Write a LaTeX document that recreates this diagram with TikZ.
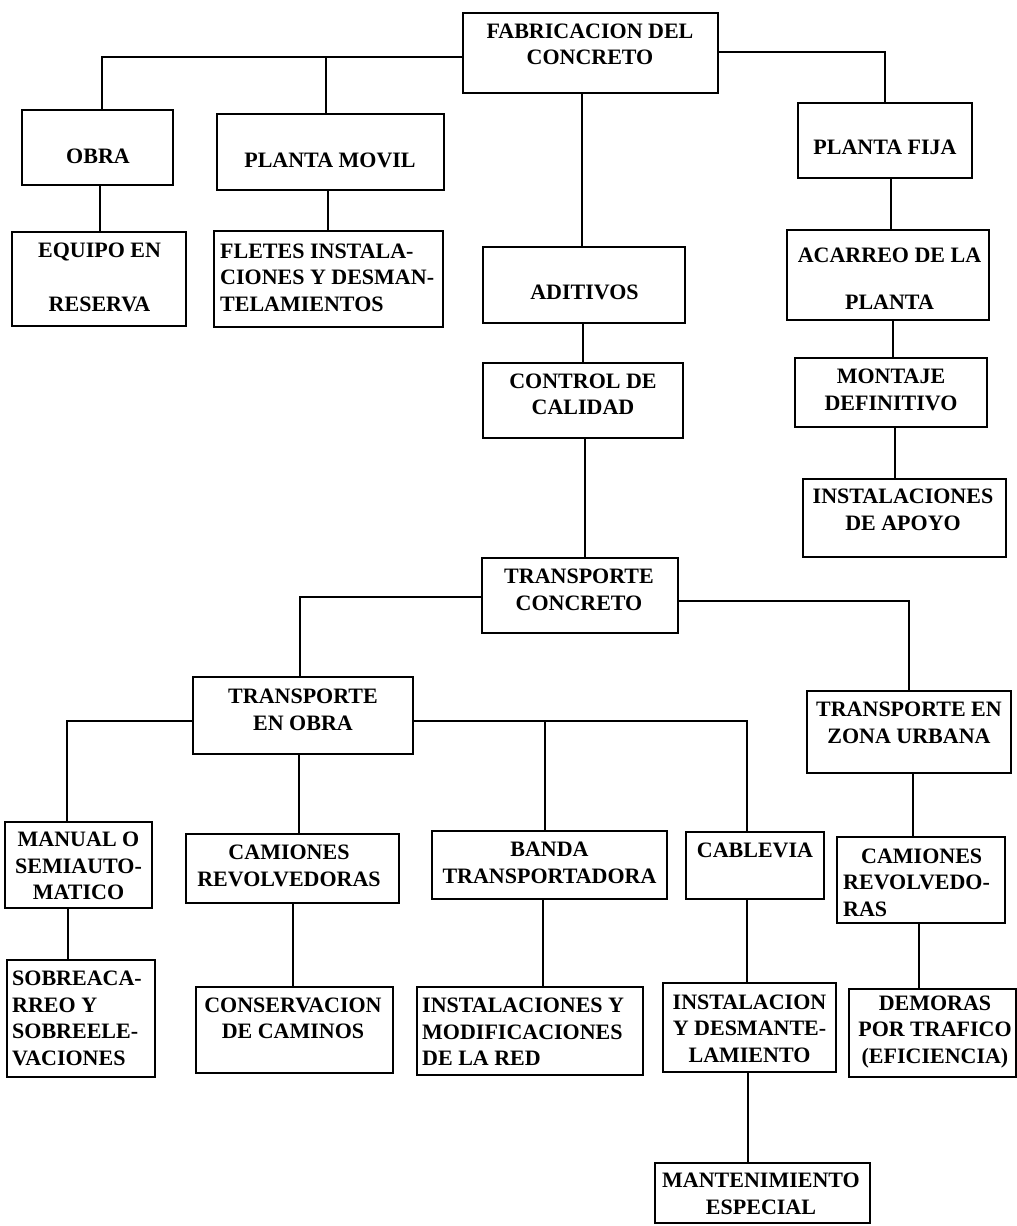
\documentclass[tikz,border=0pt]{standalone}
\usepackage{fontspec}
\setmainfont{Liberation Serif}
\newcommand\bx[5]{\node[box, minimum width={(#4-#2)*1pt}, minimum height={(#5-#3)*1pt}] (#1) at ({(#2+#4)/2},{(#3+#5)/2}) {};}
\begin{document}
\begin{tikzpicture}[x=1pt,y=-1pt,
  box/.style={draw, line width=2.3pt, inner sep=0pt, outer sep=0pt},
  txt/.style={inner sep=0pt, font=\fontsize{22}{26.5}\selectfont\bfseries},
  ln/.style={line width=2.3pt}]
\useasboundingbox (0,0) rectangle (1017,1226);
% boxes
\bx{fab}{463}{13}{718}{93}
\bx{obra}{22}{110}{173}{185}
\bx{pm}{217}{114}{444}{190}
\bx{pf}{798}{103}{972}{178}
\bx{eq}{12}{232}{186}{326}
\bx{fl}{214}{231}{443}{327}
\bx{adit}{483}{247}{685}{323}
\bx{aca}{787}{230}{989}{320}
\bx{ctrl}{483}{363}{683}{438}
\bx{mont}{795}{358}{987}{427}
\bx{apoyo}{803}{479}{1006}{557}
\bx{tc}{482}{558}{678}{633}
\bx{teo}{193}{677}{413}{754}
\bx{tzu}{807}{691}{1011}{773}
\bx{man}{5}{822}{152}{908}
\bx{cam}{186}{834}{399}{903}
\bx{banda}{432}{831}{667}{899}
\bx{cab}{686}{832}{824}{899}
\bx{camb}{837}{837}{1005}{923}
\bx{sob}{7}{960}{155}{1077}
\bx{cons}{196}{987}{393}{1073}
\bx{imod}{417}{987}{643}{1075}
\bx{idesm}{663}{983}{836}{1072}
\bx{dem}{849}{989}{1016}{1077}
\bx{mant}{655}{1163}{870}{1223}
% texts
\node[txt, align=center] (fabt) at (590,44.5) {FABRICACION DEL\\CONCRETO};
\node[txt] (obrat) at (98,156) {OBRA};
\node[txt] (pmt) at (330,160) {PLANTA MOVIL};
\node[txt, align=center] (eqt) at (99.5,277.5) {EQUIPO EN\\[27.5pt]RESERVA};
\node[txt, align=left, anchor=west] (flt) at (220,277.5) {FLETES INSTALA-\\CIONES Y DESMAN-\\TELAMIENTOS};
\node[txt] (pft) at (885,147.5) {PLANTA FIJA};
\node[txt, align=center] (acat) at (889.5,279) {ACARREO DE LA\\[20.5pt]PLANTA};
\node[txt] (aditt) at (584.5,292.5) {ADITIVOS};
\node[txt, align=center] (ctrlt) at (583,394.5) {CONTROL DE\\CALIDAD};
\node[txt, align=center] (montt) at (891,390) {MONTAJE\\DEFINITIVO};
\node[txt, align=center] (apoyot) at (903,510) {INSTALACIONES\\DE APOYO};
\node[txt, align=center] (tct) at (579,590) {TRANSPORTE\\CONCRETO};
\node[txt, align=center] (teot) at (303,710) {TRANSPORTE\\EN OBRA};
\node[txt, align=center] (tzut) at (909,723) {TRANSPORTE EN\\ZONA URBANA};
\node[txt, align=center] (mant1) at (78.5,866) {MANUAL O\\SEMIAUTO-\\MATICO};
\node[txt, align=center] (camt) at (289,866) {CAMIONES\\REVOLVEDORAS};
\node[txt, align=center] (bandat) at (549.5,863) {BANDA\\TRANSPORTADORA};
\node[txt] (cabt) at (755,850.5) {CABLEVIA};
\node[txt, align=left, anchor=west] (cambt) at (843,882.5) {\hspace*{18pt}CAMIONES\\REVOLVEDO-\\RAS};
\node[txt, align=left, anchor=west] (sobt) at (12,1018.5) {SOBREACA-\\RREO Y\\SOBREELE-\\VACIONES};
\node[txt, align=center] (const) at (293,1018.5) {CONSERVACION\\DE CAMINOS};
\node[txt, align=left, anchor=west] (imodt) at (422,1032) {INSTALACIONES Y\\MODIFICACIONES\\DE LA RED};
\node[txt, align=center] (idesmt) at (749.5,1028.5) {INSTALACION\\Y DESMANTE-\\LAMIENTO};
\node[txt, align=center] (demt) at (935,1032) {DEMORAS\\POR TRAFICO\\(EFICIENCIA)};
\node[txt, align=center] (mantt) at (761,1194) {MANTENIMIENTO\\ESPECIAL};
% junctions
\coordinate (jL) at (102,57);
\coordinate (jPM) at (326,57);
\coordinate (jR) at (885,52);
\coordinate (jTL) at (300,597);
\coordinate (jTR) at (909,601);
\coordinate (jML) at (67,721);
\coordinate (jMR) at (747,721);
\coordinate (jB) at (545,721);
% connectors
\draw[ln] (fab.west |- jL) -- (jL) -- (obra.north -| jL);
\draw[ln] (jPM) -- (pm.north -| jPM);
\draw[ln] (fab.east |- jR) -- (jR) -- (pf.north -| jR);
\draw[ln] (fab.south -| 582,0) -- (adit.north -| 582,0);
\draw[ln] (adit.south -| 583,0) -- (ctrl.north -| 583,0);
\draw[ln] (obra.south -| 100,0) -- (eq.north -| 100,0);
\draw[ln] (pm.south -| 328,0) -- (fl.north -| 328,0);
\draw[ln] (pf.south -| 891,0) -- (aca.north -| 891,0);
\draw[ln] (aca.south -| 893,0) -- (mont.north -| 893,0);
\draw[ln] (mont.south -| 895,0) -- (apoyo.north -| 895,0);
\draw[ln] (ctrl.south -| 585,0) -- (tc.north -| 585,0);
\draw[ln] (tc.west |- jTL) -- (jTL) -- (teo.north -| jTL);
\draw[ln] (tc.east |- jTR) -- (jTR) -- (tzu.north -| jTR);
\draw[ln] (teo.west |- jML) -- (jML) -- (man.north -| jML);
\draw[ln] (teo.east |- jMR) -- (jMR) -- (cab.north -| jMR);
\draw[ln] (jB) -- (banda.north -| jB);
\draw[ln] (teo.south -| 299,0) -- (cam.north -| 299,0);
\draw[ln] (tzu.south -| 913,0) -- (camb.north -| 913,0);
\draw[ln] (man.south -| 68,0) -- (sob.north -| 68,0);
\draw[ln] (cam.south -| 293,0) -- (cons.north -| 293,0);
\draw[ln] (banda.south -| 543,0) -- (imod.north -| 543,0);
\draw[ln] (cab.south -| 747,0) -- (idesm.north -| 747,0);
\draw[ln] (idesm.south -| 748,0) -- (mant.north -| 748,0);
\draw[ln] (camb.south -| 919,0) -- (dem.north -| 919,0);
\end{tikzpicture}
\end{document}
